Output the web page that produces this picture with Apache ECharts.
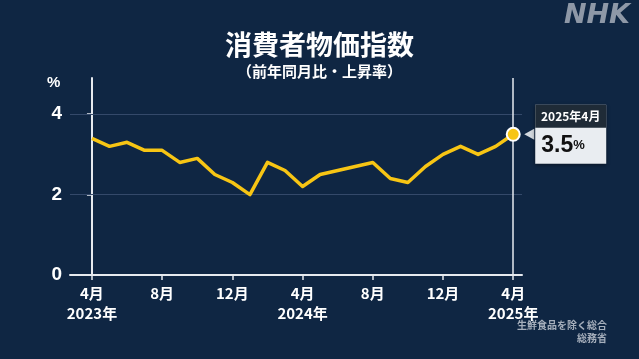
<!DOCTYPE html>
<html><head><meta charset="utf-8">
<script src="https://cdn.jsdelivr.net/npm/echarts@6/dist/echarts.min.js"></script>
<style>html,body{margin:0;padding:0;background:#0f2643;}#c{width:639px;height:359px;}</style>
</head><body><div id="c"></div>
<script>
const months = ['2023年4月','2023年5月','2023年6月','2023年7月','2023年8月','2023年9月','2023年10月','2023年11月','2023年12月',
  '2024年1月','2024年2月','2024年3月','2024年4月','2024年5月','2024年6月','2024年7月','2024年8月','2024年9月','2024年10月','2024年11月','2024年12月',
  '2025年1月','2025年2月','2025年3月','2025年4月'];
const cpi = [3.4,3.2,3.3,3.1,3.1,2.8,2.9,2.5,2.3,2.0,2.8,2.6,2.2,2.5,2.6,2.7,2.8,2.4,2.3,2.7,3.0,3.2,3.0,3.2,3.5];
const xTickIdx = [0,4,8,12,16,20,24];
const xTickMonth = ['4月','8月','12月','4月','8月','12月','4月'];
const xTickYear = ['2023年','','','2024年','','','2025年'];
const yTicks = [0,2,4];
const yGrid = [2,4];

const FONT = '"Liberation Sans","Noto Sans CJK JP",sans-serif';
const JFONT = '"Noto Sans CJK JP",sans-serif';
const last = cpi.length - 1;
const data = cpi.map((v,i)=> i===last ? {
  value:[i,v], symbol:'circle', symbolSize:13,
  itemStyle:{color:'#f7c514',borderColor:'#ffffff',borderWidth:2},
  label:{show:true, position:'right', distance:14.5,
    formatter: '{h|' + months[i] + '}\n{v|' + v.toFixed(1) + '}{p|%}',
    backgroundColor:'#e9edf1', padding:0,
    shadowColor:'rgba(0,0,0,0.45)', shadowBlur:4, shadowOffsetY:1,
    rich:{
      h:{width:71, height:23, lineHeight:23, align:'center', backgroundColor:'#1f2b37', color:'#fff', fontFamily:JFONT, fontWeight:'bold', fontSize:12},
      v:{fontFamily:FONT, fontSize:23, fontWeight:'bold', color:'#111', height:30, lineHeight:30, padding:[0,0,0,6]},
      p:{fontFamily:FONT, fontSize:13, fontWeight:'bold', color:'#111', height:30, lineHeight:36}
    }
  }
} : [i,v]);

const chart = echarts.init(document.getElementById('c'), null, {renderer:'canvas'});
chart.setOption({
  backgroundColor:'#0f2643',
  animation:false,
  title:{
    text:'消費者物価指数', subtext:'（前年同月比・上昇率）',
    left:'center', top:26, itemGap:6,
    textStyle:{color:'#fff', fontFamily:JFONT, fontWeight:'bold', fontSize:27},
    subtextStyle:{color:'#fff', fontFamily:JFONT, fontWeight:'bold', fontSize:15}
  },
  grid:{left:70, right:117, top:78, bottom:84},
  xAxis:{
    type:'value', min:-1.25, max:24.5,
    axisLine:{show:true, lineStyle:{color:'#e6eaef', width:2}},
    axisTick:{show:true, customValues:xTickIdx, length:5, lineStyle:{color:'#e6eaef', width:1.5}},
    splitLine:{show:false},
    axisLabel:{customValues:xTickIdx, margin:8, color:'#fff', fontFamily:JFONT, fontWeight:'bold', fontSize:15, lineHeight:20,
      formatter:(val)=>{const k=xTickIdx.indexOf(val); return xTickYear[k] ? xTickMonth[k]+'\n'+xTickYear[k] : xTickMonth[k];}}
  },
  yAxis:{
    type:'value', min:0, max:4.9,
    axisLine:{show:true, lineStyle:{color:'#e6eaef', width:2}},
    axisTick:{show:true, customValues:yTicks, length:5, lineStyle:{color:'#e6eaef', width:1.5}},
    splitLine:{show:false},
    axisLabel:{customValues:yTicks, margin:8, color:'#fff', fontFamily:FONT, fontWeight:'bold', fontSize:19}
  },
  graphic:[
    {type:'text', left:47, top:75, style:{text:'%', fill:'#fff', font:'bold 15px '+FONT}},
    {type:'text', right:9, top:2, style:{text:'NHK', fill:'#8e98a7', font:'italic bold 27px "DejaVu Sans",sans-serif'}},
    {type:'text', right:32, top:320, style:{text:'生鮮食品を除く総合', fill:'#a5aebb', font:'bold 10px '+JFONT, align:'right'}},
    {type:'text', right:32, top:333, style:{text:'総務省', fill:'#a5aebb', font:'bold 10px '+JFONT, align:'right'}}
  ],
  series:[{
    type:'line', data:data, symbol:'none', z:5,
    lineStyle:{color:'#f7c514', width:3.5, join:'round'},
    markLine:{
      silent:true, symbol:'none', label:{show:false}, z:1,
      data:[
        ...yGrid.map(g=>({yAxis:g, lineStyle:{color:'#34496a', width:1, type:'solid'}})),
        {xAxis:last, lineStyle:{color:'#e6eaef', width:1.5, type:'solid'}}
      ]
    },
    markPoint:{
      silent:true, z:3,
      data:[{coord:[last, cpi[last]], symbol:'triangle', symbolRotate:90, symbolSize:[11,10], symbolOffset:[16,0],
        itemStyle:{color:'#d3d9df'}, label:{show:false}}]
    }
  }]
});
</script></body></html>
